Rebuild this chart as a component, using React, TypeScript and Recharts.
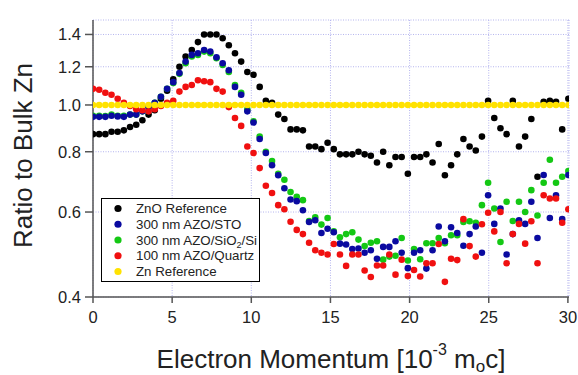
import { CartesianGrid, Legend, Scatter, ScatterChart, XAxis, YAxis } from 'recharts'

// electron momentum, 10^-3 m0c
const MOMENTUM = [
  0, 0.39, 0.78, 1.17, 1.56, 1.95, 2.34, 2.73, 3.12, 3.51, 3.9, 4.29, 4.68, 5.07, 5.46, 5.85,
  6.24, 6.63, 7.02, 7.41, 7.8, 8.19, 8.58, 8.97, 9.36, 9.75, 10.14, 10.53, 10.92, 11.31, 11.7,
  12.09, 12.48, 12.87, 13.26, 13.65, 14.04, 14.43, 14.82, 15.21, 15.6, 15.99, 16.38, 16.77,
  17.16, 17.55, 17.94, 18.33, 18.72, 19.11, 19.5, 19.89, 20.28, 20.67, 21.06, 21.45, 21.84,
  22.23, 22.62, 23.01, 23.4, 23.79, 24.18, 24.57, 24.96, 25.35, 25.74, 26.13, 26.52, 26.91,
  27.3, 27.69, 28.08, 28.47, 28.86, 29.25, 29.64, 30.03,
]

const ZNO_REF = [
  0.87, 0.87, 0.87, 0.88, 0.88, 0.886, 0.9, 0.91, 0.93, 0.955, 0.975,
  1.03, 1.07, 1.13,
  1.2, 1.26, 1.3, 1.35, 1.4, 1.4, 1.4, 1.375, 1.33, 1.28, 1.23,
  1.17, 1.155, 1.09, 1.02, 1.01, 0.955,
  0.935, 0.89, 0.89, 0.886, 0.82, 0.82, 0.81, 0.835, 0.81, 0.79, 0.79, 0.79, 0.8, 0.79, 0.785,
  0.76, 0.8, 0.75, 0.78, 0.78, 0.72, 0.78, 0.78, 0.79, 0.76, 0.83, 0.715, 0.75, 0.79, 0.85,
  0.82, 0.805, 0.86, 1.02, 0.94, 0.895, 0.87, 1.02, 0.82, 0.86, 0.935, 0.71, 1.015, 1.02,
  1.015, 0.89, 1.03,
]

const AZO_STO = [
  0.945, 0.945, 0.945, 0.95, 0.947, 0.945, 0.955, 0.955, 0.97, 0.99, 1.01, 1.04, 1.08,
  1.115, 1.165, 1.23, 1.27, 1.28, 1.3, 1.29, 1.255, 1.22, 1.18, 1.09, 1.05,
  0.97, 0.92, 0.85, 0.795, 0.75, 0.715,
  0.672, 0.637, 0.632, 0.605, 0.572, 0.577, 0.543, 0.554, 0.545, 0.516, 0.514, 0.503, 0.504,
  0.494, 0.5, 0.48, 0.508, 0.508, 0.522, 0.494, 0.459, 0.494, 0.5, 0.458, 0.5, 0.56, 0.522,
  0.558, 0.543, 0.511, 0.54, 0.56, 0.494, 0.65, 0.567, 0.61, 0.49, 0.54, 0.577, 0.567, 0.63,
  0.53, 0.716, 0.583, 0.65, 0.58, 0.716,
]

const AZO_SIO2 = [
  0.95, 0.95, 0.948, 0.955, 0.95, 0.95, 0.955, 0.955, 0.97, 0.99, 1.01, 1.04, 1.08,
  1.11, 1.16, 1.22, 1.26, 1.27, 1.29, 1.28, 1.25, 1.21, 1.17, 1.1, 1.06,
  0.98, 0.925, 0.86, 0.8, 0.765, 0.72,
  0.7, 0.66, 0.645, 0.635, 0.575, 0.585, 0.565, 0.583, 0.547, 0.532, 0.54, 0.545, 0.526, 0.51,
  0.518, 0.522, 0.478, 0.485, 0.487, 0.53, 0.476, 0.503, 0.479, 0.517, 0.517, 0.53, 0.517,
  0.537, 0.537, 0.572, 0.574, 0.57, 0.62, 0.69, 0.61, 0.52, 0.63, 0.575, 0.63, 0.6, 0.666,
  0.59, 0.69, 0.77, 0.69, 0.71, 0.73,
]

const AZO_QUARTZ = [
  1.08, 1.075, 1.06, 1.05, 1.03, 1.01, 0.995, 0.98, 0.975, 0.97, 0.98, 0.995, 1.01,
  1.02, 1.066, 1.09, 1.1, 1.125, 1.12, 1.115, 1.08, 1.066, 0.99, 0.94, 0.905,
  0.82, 0.795, 0.74, 0.68, 0.657, 0.62,
  0.608, 0.573, 0.551, 0.54, 0.518, 0.5, 0.494, 0.49, 0.515, 0.49, 0.464, 0.49, 0.49, 0.454,
  0.44, 0.465, 0.465, 0.49, 0.445, 0.478, 0.442, 0.455, 0.441, 0.47, 0.47, 0.515, 0.43, 0.48,
  0.477, 0.58, 0.51, 0.485, 0.566, 0.598, 0.547, 0.6, 0.47, 0.54, 0.567, 0.516, 0.574, 0.47,
  0.65, 0.64, 0.64, 0.57, 0.608,
]

const ZN_REF = [
  1, 1, 1, 1, 1, 1, 1, 1, 1, 1, 1, 1, 1, 1, 1, 1, 1, 1, 1, 1, 1, 1, 1, 1, 1, 1,
  1, 1, 1, 1, 1, 1, 1, 1, 1, 1, 1, 1, 1, 1, 1, 1, 1, 1, 1, 1, 1, 1, 1, 1, 1, 1,
  1, 1, 1, 1, 1, 1, 1, 1, 1, 1, 1, 1, 1, 1, 1, 1, 1, 1, 1, 1, 1, 1, 1, 1, 1, 1,
]

const X_TICKS = [0, 5, 10, 15, 20, 25, 30]
const Y_TICKS = [0.4, 0.6, 0.8, 1.0, 1.2, 1.4]

const COLORS = {
  zno: '#000000',
  sto: '#0a0aa0',
  sio2: '#14c814',
  quartz: '#f01010',
  zn: '#ffe200',
}

const AXIS_COLOR = '#555'
const TEXT_COLOR = '#222'
const FONT = "'Liberation Sans', Arial, sans-serif"

const toPoints = (values: number[]) => MOMENTUM.map((x, i) => ({ x, y: values[i] }))

const dot = (color: string) => (props: any) => (
  <circle cx={props.cx} cy={props.cy} r={3.3} fill={color} />
)

const LEGEND_ROWS = [
  { color: COLORS.zno, label: <>ZnO Reference</> },
  { color: COLORS.sto, label: <>300 nm AZO/STO</> },
  {
    color: COLORS.sio2,
    label: (
      <>
        300 nm AZO/SiO
        <tspan fontSize={9} dy={3}>2</tspan>
        <tspan dy={-3}>/Si</tspan>
      </>
    ),
  },
  { color: COLORS.quartz, label: <>100 nm AZO/Quartz</> },
  { color: COLORS.zn, label: <>Zn Reference</> },
]

function LegendBox() {
  return (
    <div style={{ border: '1px solid #000', background: '#fff', width: 157, height: 82 }}>
      <svg width={157} height={82}>
        {LEGEND_ROWS.map((row, i) => (
          <g key={i}>
            <circle cx={16} cy={9.5 + i * 15.75} r={3.6} fill={row.color} />
            <text x={34} y={14 + i * 15.75} fontSize={13.3} fill={TEXT_COLOR} fontFamily={FONT}>
              {row.label}
            </text>
          </g>
        ))}
      </svg>
    </div>
  )
}

function XTitle(props: any) {
  const { x, y, width } = props.viewBox
  return (
    <text x={x + width / 2} y={y + 71} textAnchor="middle" fontSize={26} fill={TEXT_COLOR} fontFamily={FONT}>
      Electron Momentum [10
      <tspan fontSize={16} dy={-13}>-3</tspan>
      <tspan dy={13}> m</tspan>
      <tspan fontSize={17} dy={4}>o</tspan>
      <tspan dy={-4}>c]</tspan>
    </text>
  )
}

function YTitle(props: any) {
  const { y, height } = props.viewBox
  const cy = y + height / 2 - 3
  return (
    <text
      x={32}
      y={cy}
      transform={`rotate(-90, 32, ${cy})`}
      textAnchor="middle"
      fontSize={26}
      fill={TEXT_COLOR}
      fontFamily={FONT}
    >
      Ratio to Bulk Zn
    </text>
  )
}

export default function App() {
  const tickStyle = { fill: TEXT_COLOR, fontSize: 16.5, fontFamily: FONT }
  const lineStyle = { stroke: AXIS_COLOR, strokeWidth: 1.5 }

  return (
    <div style={{ position: 'absolute', left: 0, top: 0, width: 578, height: 375, background: '#fff', fontFamily: FONT }}>
      <ScatterChart width={578} height={375} margin={{ top: 20, right: 9, bottom: 0, left: 0 }}>
        <CartesianGrid stroke="#b4b4ee" strokeDasharray="1 1.5" />
        <XAxis
          dataKey="x"
          type="number"
          domain={[0, 30.07]}
          ticks={X_TICKS}
          allowDataOverflow
          height={78}
          tick={tickStyle}
          tickSize={6}
          tickMargin={8}
          axisLine={lineStyle}
          tickLine={lineStyle}
          label={<XTitle />}
        />
        <XAxis
          xAxisId="top"
          orientation="top"
          type="number"
          domain={[0, 30.07]}
          ticks={X_TICKS}
          allowDataOverflow
          height={0}
          tickSize={7}
          tickFormatter={() => ''}
          axisLine={lineStyle}
          tickLine={lineStyle}
        />
        <YAxis
          dataKey="y"
          type="number"
          scale="log"
          domain={[0.4, 1.5]}
          ticks={Y_TICKS}
          allowDataOverflow
          width={93}
          tick={tickStyle}
          tickSize={8}
          tickMargin={4}
          tickFormatter={(v: number) => v.toFixed(1)}
          axisLine={lineStyle}
          tickLine={lineStyle}
          label={<YTitle />}
        />
        <YAxis
          yAxisId="right"
          orientation="right"
          type="number"
          scale="log"
          domain={[0.4, 1.5]}
          ticks={Y_TICKS}
          allowDataOverflow
          width={0}
          tickSize={8}
          tickFormatter={() => ''}
          axisLine={lineStyle}
          tickLine={lineStyle}
        />
        <Legend
          layout="vertical"
          align="center"
          verticalAlign="middle"
          wrapperStyle={{ left: 101, top: 198, width: 'auto' }}
          content={() => <LegendBox />}
        />
        <Scatter name="ZnO Reference" data={toPoints(ZNO_REF)} shape={dot(COLORS.zno)} isAnimationActive={false} />
        <Scatter name="300 nm AZO/SiO2/Si" data={toPoints(AZO_SIO2)} shape={dot(COLORS.sio2)} isAnimationActive={false} />
        <Scatter name="300 nm AZO/STO" data={toPoints(AZO_STO)} shape={dot(COLORS.sto)} isAnimationActive={false} />
        <Scatter name="100 nm AZO/Quartz" data={toPoints(AZO_QUARTZ)} shape={dot(COLORS.quartz)} isAnimationActive={false} />
        <Scatter name="Zn Reference" data={toPoints(ZN_REF)} shape={dot(COLORS.zn)} isAnimationActive={false} />
      </ScatterChart>
    </div>
  )
}
